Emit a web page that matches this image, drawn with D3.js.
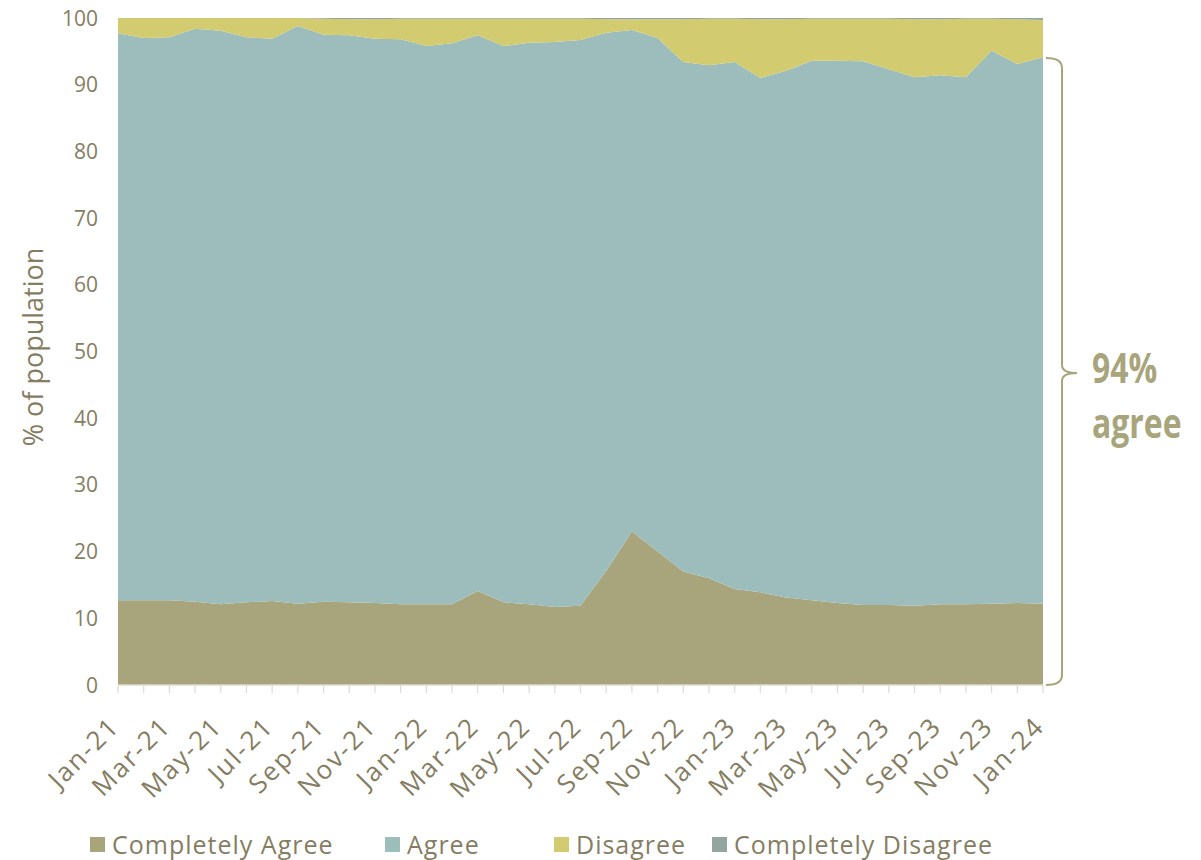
<!DOCTYPE html>
<html><head><meta charset="utf-8">
<script src="https://cdn.jsdelivr.net/npm/d3@7"></script>
<style>
body{margin:0;background:#fff;}
</style></head><body>
<svg id="c" width="1201" height="860" style="font-family:'Open Sans','Noto Sans',sans-serif"></svg>
<script>
const months = ["Jan-21","Feb-21","Mar-21","Apr-21","May-21","Jun-21","Jul-21","Aug-21","Sep-21","Oct-21","Nov-21","Dec-21",
"Jan-22","Feb-22","Mar-22","Apr-22","May-22","Jun-22","Jul-22","Aug-22","Sep-22","Oct-22","Nov-22","Dec-22",
"Jan-23","Feb-23","Mar-23","Apr-23","May-23","Jun-23","Jul-23","Aug-23","Sep-23","Oct-23","Nov-23","Dec-23","Jan-24"];
const completelyAgree = [12.7,12.7,12.7,12.5,12.1,12.4,12.6,12.2,12.5,12.4,12.3,12.1,12.1,12.1,14.1,12.4,12.1,11.7,11.9,17.1,23.0,20.0,17.0,16.0,14.4,13.9,13.1,12.7,12.3,12.0,12.0,11.9,12.1,12.1,12.2,12.3,12.2];
const agree = [85.0,84.3,84.4,85.9,86.0,84.7,84.3,86.6,85.0,85.0,84.6,84.7,83.7,84.1,83.3,83.4,84.2,84.7,84.8,80.7,75.2,77.0,76.4,76.9,79.0,77.1,79.0,80.9,81.3,81.5,80.3,79.2,79.3,79.0,82.9,80.8,81.9];
const disagree = [2.3,3.0,2.9,1.6,1.9,2.9,3.1,1.2,2.4,2.4,2.9,3.1,4.1,3.7,2.5,4.1,3.6,3.5,3.2,2.0,1.6,2.8,6.4,7.0,6.5,8.8,7.7,6.3,6.3,6.4,7.6,8.7,8.4,8.8,4.8,6.7,5.6];
const completelyDisagree = [0,0,0,0,0,0,0,0,0.1,0.2,0.2,0.1,0.1,0.1,0.1,0.1,0.1,0.1,0.1,0.2,0.2,0.2,0.2,0.1,0.1,0.2,0.2,0.1,0.1,0.1,0.1,0.2,0.2,0.1,0.1,0.2,0.3];
const seriesNames = ["Completely Agree","Agree","Disagree","Completely Disagree"];
const yTicks = [0,10,20,30,40,50,60,70,80,90,100];
const annotationValue = 94;
const annotationText = ["94%","agree"];
const yTitle = "% of population";

const colors = ["#a8a47c","#9dbdbc","#d3cb6f","#93a59f"];
const textColor = "#857d62";

const rows = months.map((m,i)=>({m, "Completely Agree":completelyAgree[i], "Agree":agree[i], "Disagree":disagree[i], "Completely Disagree":completelyDisagree[i]}));
const stack = d3.stack().keys(seriesNames)(rows);

const svg = d3.select("#c");
const pL=118, pR=1043, pT=18, pB=685;
const x = d3.scalePoint().domain(months).range([pL,pR]);
const y = d3.scaleLinear().domain([0,100]).range([pB,pT]);

const area = d3.area().x(d=>x(d.data.m)).y0(d=>y(d[0])).y1(d=>y(d[1]));
svg.append("g").selectAll("path").data(stack).join("path")
  .attr("d",area).attr("fill",(d,i)=>colors[i]);

// x axis line and ticks
const gx = svg.append("g").attr("transform",`translate(0,${pB})`);
gx.append("line").attr("x1",pL).attr("x2",pR).attr("stroke","#dedbd0").attr("stroke-width",1.5);
gx.selectAll("line.t").data(months).join("line").attr("class","t")
  .attr("x1",d=>x(d)).attr("x2",d=>x(d)).attr("y1",0).attr("y2",8)
  .attr("stroke","#dedbd0").attr("stroke-width",1.2);
gx.selectAll("text").data(months.filter((d,i)=>i%2===0)).join("text")
  .attr("text-anchor","end")
  .attr("transform",d=>`translate(${x(d)+3},${43}) rotate(-45)`)
  .attr("fill",textColor).attr("font-size",26).attr("letter-spacing",2).text(d=>d);

// y axis labels
svg.append("g").selectAll("text").data(yTicks).join("text")
  .attr("x",98).attr("y",d=>y(d)).attr("dy","0.36em").attr("text-anchor","end")
  .attr("fill",textColor).attr("font-size",21).text(d=>d);

svg.append("text").attr("transform",`translate(43,347) rotate(-90)`)
  .attr("text-anchor","middle").attr("fill",textColor).attr("font-size",27).text(yTitle);

// bracket
const bt=y(annotationValue), bb=y(0), bm=373, bx=1062;
svg.append("path").attr("fill","none").attr("stroke","#a8a47c").attr("stroke-width",2)
  .attr("d",`M1046,${bt} Q${bx},${bt} ${bx},${bt+10} L${bx},${bm-8} Q${bx},${bm} ${bx+15},${bm} Q${bx},${bm} ${bx},${bm+8} L${bx},${bb-10} Q${bx},${bb} 1046,${bb}`);
svg.append("g").selectAll("text").data(annotationText).join("text")
  .attr("transform",(d,i)=>`translate(1092,${[383,438][i]}) scale(0.76,1)`)
  .attr("fill","#a8a47c").attr("font-size",42).attr("font-weight","bold")
  .text(d=>d);

// legend
const legX=[90,385,554,712];
const lg = svg.append("g").selectAll("g").data(seriesNames).join("g")
  .attr("transform",(d,i)=>`translate(${legX[i]},845)`);
lg.append("rect").attr("x",0).attr("y",-8).attr("width",15).attr("height",15).attr("fill",(d,i)=>colors[i]);
lg.append("text").attr("x",22).attr("y",0).attr("dy","0.35em").attr("fill",textColor).attr("font-size",25).attr("letter-spacing",1).text(d=>d);
</script></body></html>
